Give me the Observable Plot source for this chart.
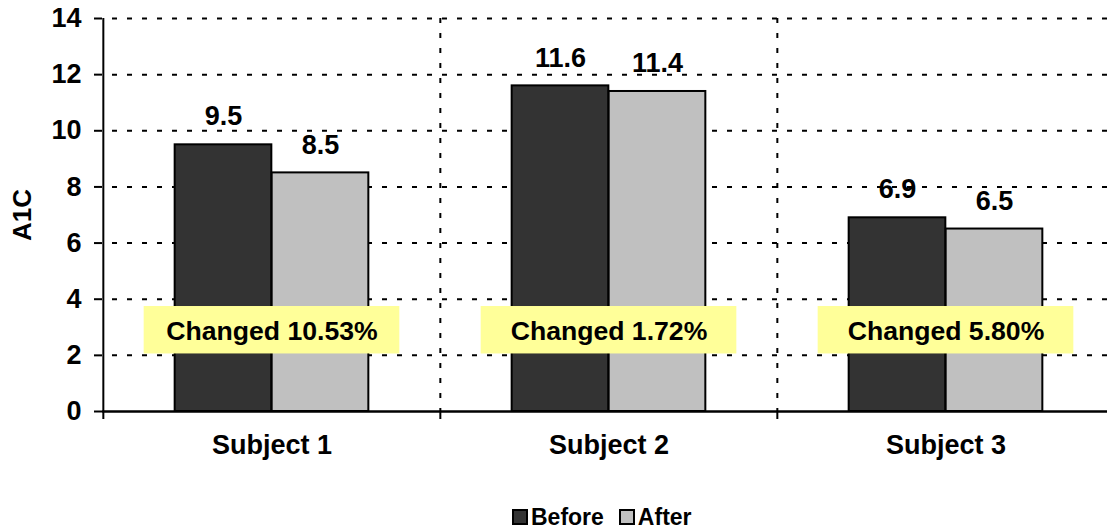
<!DOCTYPE html>
<html>
<head>
<meta charset="utf-8">
<script src="https://cdn.jsdelivr.net/npm/d3@7"></script>
<script src="https://cdn.jsdelivr.net/npm/@observablehq/plot@0.6"></script>
<style>
  body { margin: 0; background: #fff; font-family: "Liberation Sans", Arial, sans-serif; }
  #chart svg { display: block; }
  #legend { display: flex; align-items: center; height: 34px; padding-left: 512px; font-weight: bold; font-size: 23px; color: #000; }
  #legend .item { display: flex; align-items: center; margin-right: 15px; }
  #legend .sw { width: 16px; height: 16px; box-sizing: border-box; border: 2px solid #000; margin-right: 3px; }
  g[aria-label="y-axis tick"] { stroke-width: 2px; }
  .tick line { stroke-width: 2px; }
</style>
</head>
<body>
<div id="chart"></div>
<div id="legend"></div>
<script>
// ---- data ----
const subjects = ["Subject 1", "Subject 2", "Subject 3"];
const seriesNames = ["Before", "After"];
const beforeValues = [9.5, 11.6, 6.9];
const afterValues = [8.5, 11.4, 6.5];
const changeLabels = ["Changed 10.53%", "Changed 1.72%", "Changed 5.80%"];
const yTicks = [0, 2, 4, 6, 8, 10, 12, 14];
const seriesColors = ["#333333", "#c0c0c0"];

// ---- layout ----
const W = 1107, H = 500;
const mL = 102, mT = 18, mB = 89;
const xRange = [102, 1114];
const step = (xRange[1] - xRange[0]) / subjects.length;
const barW = 97;
const boxW = 256;
const noteLow = 2.05, noteHigh = 3.74, noteMid = 2.86;
const dash = "5,10";

const rows = subjects.flatMap((s, i) => [
  {subject: s, series: seriesNames[0], value: beforeValues[i]},
  {subject: s, series: seriesNames[1], value: afterValues[i]}
]);
const beforeRows = rows.filter(d => d.series === seriesNames[0]);
const afterRows = rows.filter(d => d.series === seriesNames[1]);
const notes = subjects.map((s, i) => ({subject: s, label: changeLabels[i]}));

const fontFamily = "'Liberation Sans', Arial, sans-serif";

const chart = Plot.plot({
  width: W,
  height: H,
  marginLeft: mL,
  marginTop: mT,
  marginBottom: mB,
  marginRight: 0,
  style: {background: "white", color: "black", fontFamily, fontSize: "27px", fontWeight: "bold", overflow: "visible"},
  x: {domain: subjects, range: xRange, padding: 0, tickSize: 0, tickPadding: 23, label: null},
  y: {domain: [0, 14], ticks: yTicks, tickSize: 8, tickPadding: 13, label: null, tickFormat: d => String(d)},
  marks: [
    // horizontal dashed gridlines
    Plot.ruleY(yTicks.filter(d => d > 0), {stroke: "black", strokeWidth: 2, strokeDasharray: dash, strokeDashoffset: 5}),
    // dashed category separators
    Plot.ruleX(subjects.slice(1), {x: d => d, dx: -step / 2, y1: 14, y2: 0, stroke: "black", strokeWidth: 2, strokeDasharray: dash}),
    // bars
    Plot.barY(beforeRows, {x: "subject", y: "value", fill: seriesColors[0], stroke: "black", strokeWidth: 2,
      insetLeft: step / 2 - barW, insetRight: step / 2}),
    Plot.barY(afterRows, {x: "subject", y: "value", fill: seriesColors[1], stroke: "black", strokeWidth: 2,
      insetLeft: step / 2, insetRight: step / 2 - barW}),
    // value labels
    Plot.text(beforeRows, {x: "subject", y: "value", text: d => String(d.value), dx: -barW / 2, dy: -28,
      fontSize: 27, fontWeight: "bold", fill: "black"}),
    Plot.text(afterRows, {x: "subject", y: "value", text: d => String(d.value), dx: barW / 2, dy: -28,
      fontSize: 27, fontWeight: "bold", fill: "black"}),
    // change note boxes
    Plot.barY(notes, {x: "subject", y1: noteLow, y2: noteHigh, fill: "#ffff99",
      insetLeft: (step - boxW) / 2, insetRight: (step - boxW) / 2}),
    Plot.text(notes, {x: "subject", y: noteMid, text: "label", fontSize: 26.6, fontWeight: "bold", fill: "black"}),
    // x axis line
    Plot.ruleY([0], {stroke: "black", strokeWidth: 2.5}),
    // y axis line (at left boundary) extending into the first boundary tick
    Plot.ruleX(subjects.slice(0, 1), {x: d => d, dx: -step / 2, y1: 14, y2: 0, insetBottom: -8, stroke: "black", strokeWidth: 2}),
    // boundary ticks below x axis
    Plot.ruleX(subjects.slice(1), {x: d => d, dx: -step / 2, y1: 0, y2: 0, insetBottom: -8, stroke: "black", strokeWidth: 2}),
    // y axis title
    Plot.text(["A1C"], {frameAnchor: "left", textAnchor: "middle", dx: -80, rotate: -90, text: d => d, fontSize: 26, fontWeight: "bold", fill: "black"})
  ]
});
document.getElementById("chart").appendChild(chart);

// legend
const legend = document.getElementById("legend");
seriesNames.forEach((name, i) => {
  const item = document.createElement("div");
  item.className = "item";
  const sw = document.createElement("div");
  sw.className = "sw";
  sw.style.background = seriesColors[i];
  const label = document.createElement("span");
  label.textContent = name;
  item.appendChild(sw);
  item.appendChild(label);
  legend.appendChild(item);
});
</script>
</body>
</html>
